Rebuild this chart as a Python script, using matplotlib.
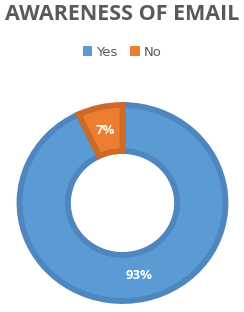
import matplotlib.pyplot as plt
from matplotlib.patches import Patch

labels = ["Yes", "No"]
values = [93, 7]
fills = ["#5b9bd5", "#ed7d31"]
edges = ["#4e86bd", "#cd6a27"]

W, H = 244, 312
fig = plt.figure(figsize=(W / 100, H / 100), dpi=100)

fig.text(0.5, 1 - 15 / H, "AWARENESS OF EMAIL", ha="center", va="center",
         fontsize=15.5, fontweight="bold", color="#595959", family="Open Sans")

# pie axes placed in pixel terms
cx, cy, rx, ry = 122.5, 203, 103, 98
ax = fig.add_axes([(cx - rx) / W, (H - cy - ry) / H, 2 * rx / W, 2 * ry / H])
wedges, texts, autotexts = ax.pie(
    values, colors=fills, startangle=90, counterclock=False,
    radius=1, autopct="%d%%", pctdistance=0.76,
    wedgeprops=dict(width=0.47, linewidth=4.2),
    textprops=dict(color="white", fontsize=9.5, fontweight="bold", family="Open Sans"),
)
for w, e in zip(wedges, edges):
    w.set_edgecolor(e)
ax.set_aspect("auto")
ax.set_xlim(-1, 1)
ax.set_ylim(-1, 1)
ax.axis("off")

handles = [Patch(facecolor=c, edgecolor="none") for c in fills]
fig.legend(handles, labels, loc="center", bbox_to_anchor=(0.5, 1 - 52 / H),
           ncol=2, frameon=False, fontsize=9.5, handlelength=0.7, handleheight=0.7,
           handletextpad=0.3, columnspacing=1.0, labelcolor="#595959")

fig.savefig("out.png", dpi=100)
